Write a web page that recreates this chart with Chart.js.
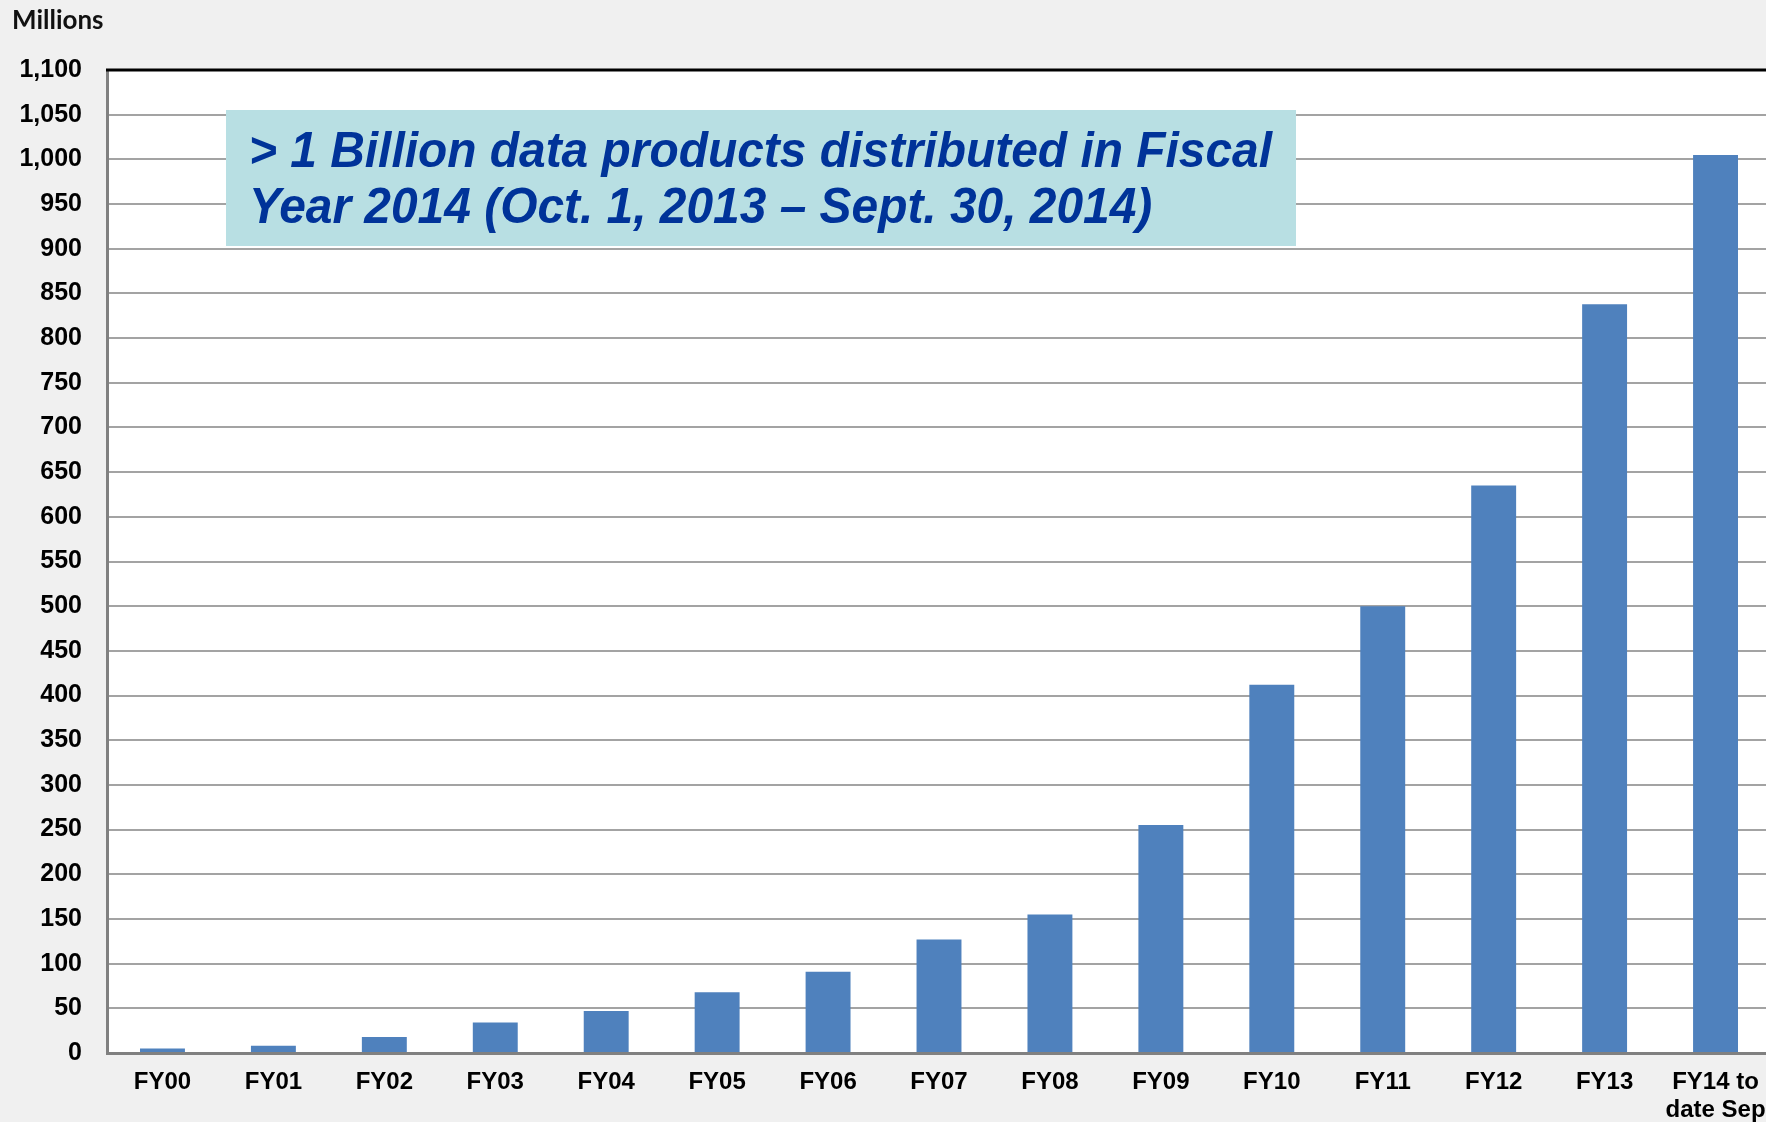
<!DOCTYPE html>
<html>
<head>
<meta charset="utf-8">
<script src="https://cdn.jsdelivr.net/npm/chart.js@4"></script>
<style>
  html, body { margin: 0; padding: 0; background: #f0f0f0; overflow: hidden; }
  canvas { display: block; }
</style>
</head>
<body>
<canvas id="productsChart" width="1771" height="1122"></canvas>
<script>
const categories = ['FY00', 'FY01', 'FY02', 'FY03', 'FY04', 'FY05', 'FY06', 'FY07',
  'FY08', 'FY09', 'FY10', 'FY11', 'FY12', 'FY13', ['FY14 to', 'date Sep']];
const productsMillions = [5, 8, 18, 34, 47, 68, 91, 127, 155, 255, 412, 500, 635, 838, 1005];
const yMin = 0;
const yMax = 1100;
const yStep = 50;
const unitLabel = 'Millions';
const noteLines = [
  '> 1 Billion data products distributed in Fiscal',
  'Year 2014 (Oct. 1, 2013 \u2013 Sept. 30, 2014)'
];

const frame = {
  id: 'frame',
  beforeDraw: (chart) => {
    const { ctx, chartArea } = chart;
    ctx.save();
    ctx.fillStyle = '#ffffff';
    ctx.fillRect(chartArea.left, chartArea.top, chartArea.right - chartArea.left, chartArea.bottom - chartArea.top);
    ctx.restore();
  },
  afterDraw: (chart) => {
    const { ctx, chartArea } = chart;
    ctx.save();
    // black top border
    ctx.strokeStyle = '#000000';
    ctx.lineWidth = 3;
    ctx.beginPath();
    ctx.moveTo(chartArea.left - 1, chartArea.top);
    ctx.lineTo(chartArea.right, chartArea.top);
    ctx.stroke();

    // unit label
    ctx.fillStyle = '#111111';
    ctx.font = 'bold 26px Lato, "Open Sans", sans-serif';
    ctx.textBaseline = 'alphabetic';
    ctx.textAlign = 'left';
    ctx.fillText(unitLabel, 12, 29, 96);

    // note box
    const bx = 226, by = 110, bw = 1070, bh = 136;
    ctx.fillStyle = '#b8dfe3';
    ctx.fillRect(bx, by, bw, bh);
    ctx.fillStyle = '#003399';
    ctx.font = 'italic bold 50px "Liberation Sans", Arial, sans-serif';
    const sx = 1023 / ctx.measureText(noteLines[0]).width;
    noteLines.forEach((line, i) => {
      ctx.save();
      ctx.translate(249, 167 + i * 56);
      ctx.scale(sx, 1);
      ctx.fillText(line, 0, 0);
      ctx.restore();
    });
    ctx.restore();
  }
};

new Chart(document.getElementById('productsChart'), {
  type: 'bar',
  data: {
    labels: categories,
    datasets: [{
      label: unitLabel,
      data: productsMillions,
      backgroundColor: '#4f81bd',
      borderWidth: 0,
      categoryPercentage: 1,
      barPercentage: 0.405
    }]
  },
  options: {
    responsive: false,
    animation: false,
    layout: { padding: { top: 70, right: 0, bottom: 0, left: 0 } },
    plugins: {
      legend: { display: false },
      tooltip: { enabled: false }
    },
    scales: {
      x: {
        grid: { display: false, drawTicks: false },
        border: { color: '#808080', width: 3 },
        ticks: {
          color: '#000000',
          font: { family: '"Liberation Sans", Arial, sans-serif', size: 24, weight: 'bold', lineHeight: 1.15 },
          padding: 16,
          autoSkip: false,
          maxRotation: 0,
          minRotation: 0
        },
        afterFit: (scale) => {
          scale.height = 69;
          scale.paddingLeft = 0;
          scale.paddingRight = 0;
        }
      },
      y: {
        min: yMin,
        max: yMax,
        grid: { color: '#a3a3a3', lineWidth: 2, drawTicks: false },
        border: { color: '#808080', width: 3 },
        ticks: {
          stepSize: yStep,
          color: '#000000',
          font: { family: '"Liberation Sans", Arial, sans-serif', size: 25, weight: 'bold' },
          padding: 25,
          callback: (v) => v.toLocaleString('en-US')
        },
        afterFit: (scale) => { scale.width = 107; }
      }
    }
  },
  plugins: [frame]
});
</script>
</body>
</html>
